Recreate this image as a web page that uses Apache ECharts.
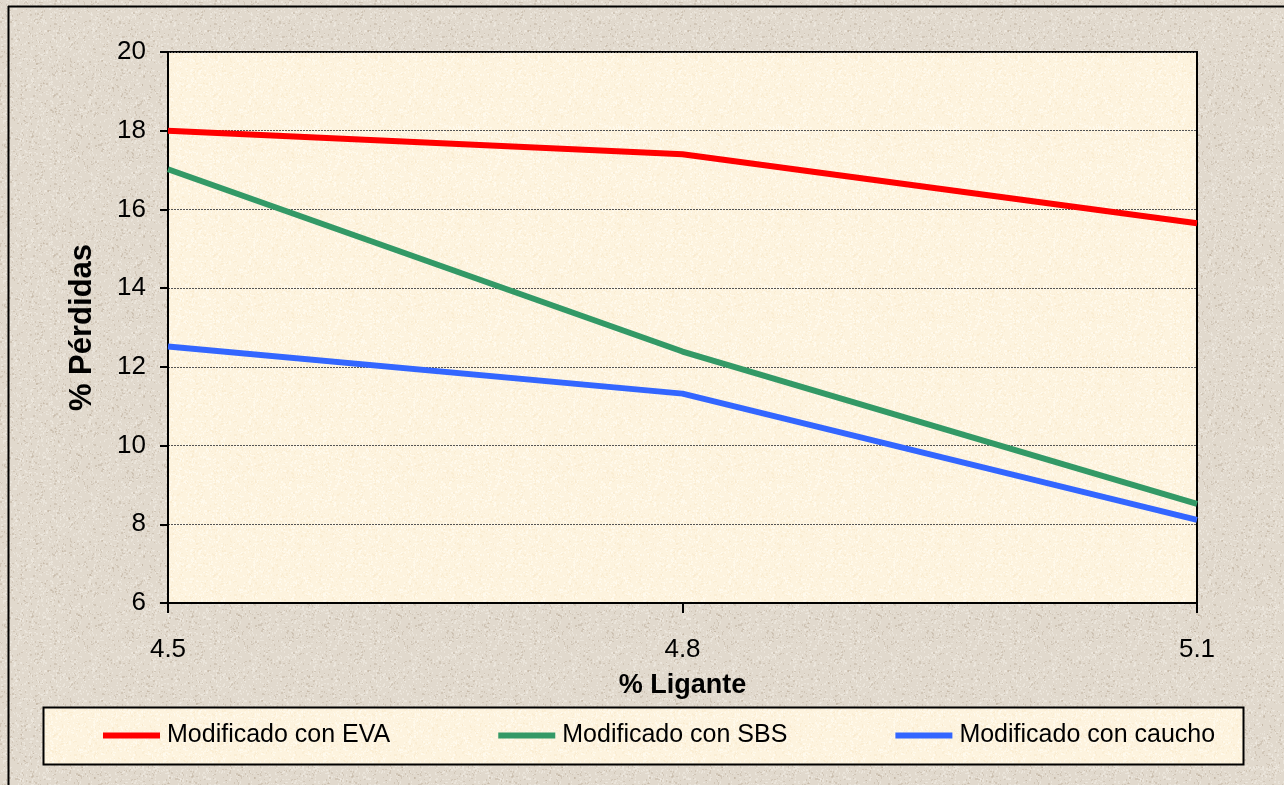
<!DOCTYPE html>
<html>
<head>
<meta charset="utf-8">
<title>% Pérdidas vs % Ligante</title>
<script src="https://cdn.jsdelivr.net/npm/echarts@6/dist/echarts.min.js"></script>
<style>
  html, body { margin: 0; padding: 0; background: #e0d8cc; }
  #chart { width: 1284px; height: 785px; }
</style>
</head>
<body>
<div id="chart"></div>
<script>
// Binder content (%) on the x axis
const ligante = ['4.5', '4.8', '5.1'];

// Losses (%) for each modified binder
const eva = [18.0, 17.4, 15.65];
const sbs = [17.02, 12.39, 8.52];
const caucho = [12.52, 11.32, 8.11];

const seriesNames = ['Modificado con EVA', 'Modificado con SBS', 'Modificado con caucho'];
const seriesColors = ['#ff0000', '#339966', '#3366ff'];

const FONT = '"Liberation Sans", Arial, sans-serif';

// Speckled paper texture tile, built from a fixed hash so it is the same on every load
function grainTile(base, dark, light, size, density) {
  const c = document.createElement('canvas');
  c.width = c.height = size;
  const ctx = c.getContext('2d');
  ctx.fillStyle = base;
  ctx.fillRect(0, 0, size, size);
  let s = 12345;
  const next = () => { s = (s * 1103515245 + 12345) & 0x7fffffff; return s / 0x7fffffff; };
  for (let i = 0; i < size * size * density; i++) {
    const x = Math.floor(next() * size);
    const y = Math.floor(next() * size);
    const r = next();
    ctx.fillStyle = r < 0.35 ? dark : light;
    ctx.fillRect(x, y, 1 + (next() < 0.3 ? 1 : 0), 1 + (next() < 0.4 ? 1 : 0));
  }
  return c;
}

const outerTile = grainTile('#e1d9cd', 'rgba(180,162,142,0.35)', 'rgba(240,235,226,0.6)', 160, 0.14);
const paperTile = grainTile('#fdf3de', 'rgba(248,232,200,0.5)', 'rgba(255,251,240,0.7)', 160, 0.18);

const chart = echarts.init(document.getElementById('chart'), null, { renderer: 'canvas' });

const makeLine = (name, data, color) => ({
  name: name,
  type: 'line',
  data: data,
  symbol: 'none',
  smooth: false,
  lineStyle: { color: color, width: 6 },
  itemStyle: { color: color },
  z: 5
});

chart.setOption({
  backgroundColor: { image: outerTile, repeat: 'repeat' },
  animation: false,
  textStyle: { fontFamily: FONT },
  graphic: [
    // outer frame (left and top edges)
    { type: 'line', shape: { x1: 8.5, y1: 6, x2: 8.5, y2: 785 }, style: { stroke: '#000', lineWidth: 2 }, z: 10 },
    { type: 'line', shape: { x1: 8, y1: 6.5, x2: 1284, y2: 6.5 }, style: { stroke: '#000', lineWidth: 2 }, z: 10 },
    // legend box
    { type: 'rect', shape: { x: 43.5, y: 707.5, width: 1200, height: 57 },
      style: { fill: { image: paperTile, repeat: 'repeat' }, stroke: '#000', lineWidth: 2 }, z: 0 }
  ],
  grid: {
    left: 168, top: 52, right: 87, bottom: 182,
    show: true,
    backgroundColor: { image: paperTile, repeat: 'repeat' },
    borderColor: '#000',
    borderWidth: 2
  },
  legend: {
    data: seriesNames,
    left: 103,
    top: 723,
    padding: 0,
    icon: 'rect',
    itemWidth: 57,
    itemHeight: 6,
    itemGap: 108,
    textStyle: { fontFamily: FONT, fontSize: 25, color: '#000', padding: [0, 0, 0, 2] }
  },
  xAxis: {
    type: 'category',
    data: ligante,
    boundaryGap: false,
    name: '% Ligante',
    nameLocation: 'middle',
    nameGap: 69,
    nameTextStyle: { fontFamily: FONT, fontSize: 27, fontWeight: 'bold', color: '#000' },
    axisLine: { lineStyle: { color: '#000', width: 2 } },
    axisTick: { show: true, length: 10, lineStyle: { color: '#000', width: 2 } },
    axisLabel: { fontFamily: FONT, fontSize: 26, color: '#000', margin: 34 },
    splitLine: { show: false }
  },
  yAxis: {
    type: 'value',
    min: 6,
    max: 20,
    interval: 2,
    name: '% Pérdidas',
    nameLocation: 'middle',
    nameGap: 70,
    nameTextStyle: { fontFamily: FONT, fontSize: 31, fontWeight: 'bold', color: '#000' },
    axisLine: { show: true, lineStyle: { color: '#000', width: 2 } },
    axisTick: { show: true, length: 8, lineStyle: { color: '#000', width: 2 } },
    axisLabel: { fontFamily: FONT, fontSize: 26, color: '#000', margin: 22 },
    splitLine: { show: true, lineStyle: { color: '#555', width: 1, type: [2, 1] } }
  },
  series: [
    makeLine(seriesNames[0], eva, seriesColors[0]),
    makeLine(seriesNames[1], sbs, seriesColors[1]),
    makeLine(seriesNames[2], caucho, seriesColors[2])
  ]
});
</script>
</body>
</html>
